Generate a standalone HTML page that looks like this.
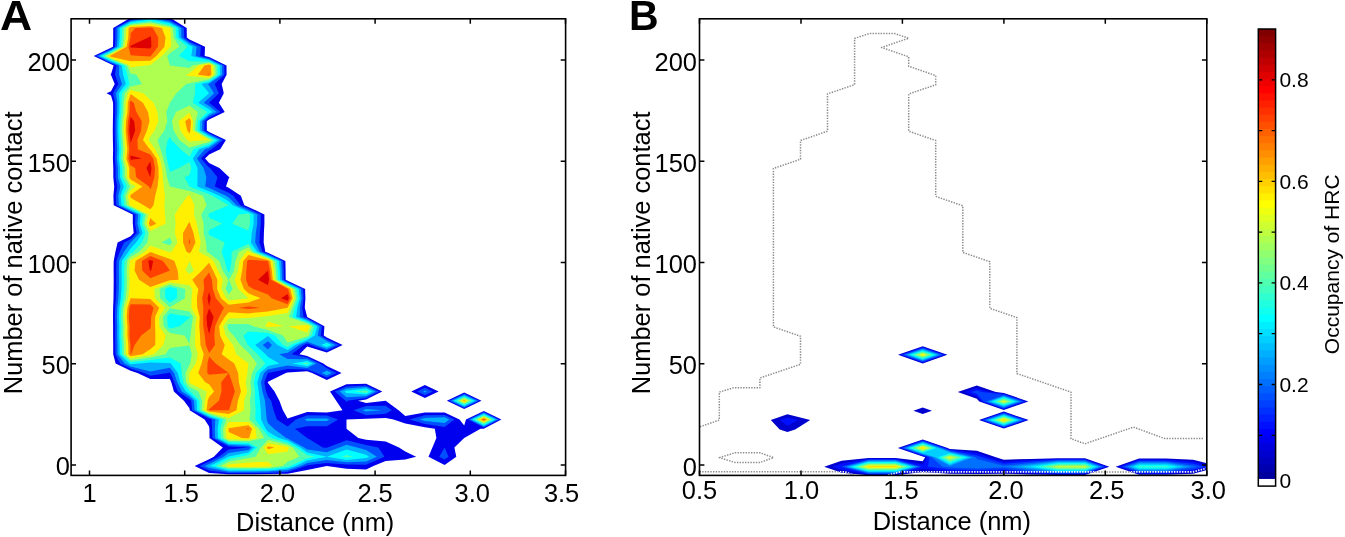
<!DOCTYPE html>
<html><head><meta charset="utf-8"><title>Figure</title><style>html,body{margin:0;padding:0;background:#fff}</style></head><body>
<svg width="1345" height="537" viewBox="0 0 1345 537" style="display:block" font-family="'Liberation Sans', sans-serif" fill="#000">
<rect width="1345" height="537" fill="#fff"/>
<clipPath id="ca"><rect x="71.1" y="18.8" width="494.5" height="456.6"/></clipPath>
<g clip-path="url(#ca)">
<path d="M128.9 18.8L130.6 18.8L150.3 18.8L169.9 18.8L171.7 18.8L186.7 28.1L186.8 37.4L189.5 39.4L205.0 46.8L204.7 56.1L209.1 57.1L226.5 65.4L226.6 74.7L221.7 84.0L223.8 93.3L218.9 102.7L224.7 112.0L209.1 119.4L206.8 121.3L206.8 130.6L209.1 131.9L225.9 139.9L220.2 149.3L209.1 154.5L205.1 158.6L209.1 163.0L219.4 167.9L228.7 176.8L229.5 177.2L228.7 178.5L226.0 186.5L228.7 187.7L240.8 195.8L244.4 205.2L248.4 206.9L264.4 214.5L264.4 223.8L263.9 233.1L263.7 242.4L265.3 251.8L268.0 252.8L285.4 261.1L285.6 270.4L285.7 279.7L287.6 280.7L305.1 289.0L305.4 298.3L304.8 307.7L307.2 317.0L307.2 317.0L324.4 326.3L323.8 335.6L326.8 337.4L342.7 344.9L326.8 352.5L307.2 346.5L299.4 354.2L307.2 355.9L323.3 363.6L326.8 365.9L341.6 372.9L326.8 379.9L312.1 372.9L307.2 371.2L287.6 372.5L285.8 372.9L268.0 381.8L267.8 382.2L268.0 383.0L274.5 391.5L279.4 400.8L282.9 410.2L287.6 418.6L307.2 412.1L326.8 412.6L342.5 410.2L336.2 400.8L330.0 391.5L346.5 384.3L366.1 383.8L382.3 391.5L366.1 399.6L358.1 400.8L366.1 403.1L385.7 400.8L398.6 410.2L405.3 416.0L424.9 412.5L444.6 412.5L459.5 419.5L464.2 425.5L466.0 419.5L483.8 411.1L501.4 419.5L483.8 428.7L480.5 428.8L464.2 438.1L464.2 438.1L454.4 447.4L456.3 456.7L444.6 465.0L428.5 456.7L432.4 447.4L436.4 438.1L434.8 428.8L424.9 427.2L405.3 423.4L393.5 419.5L385.7 417.9L366.1 418.8L346.5 419.5L346.5 419.5L346.5 428.8L346.5 428.8L358.3 438.1L366.1 439.8L385.7 441.4L399.0 447.4L405.3 451.6L416.1 456.7L405.3 459.4L385.7 461.0L373.4 466.1L366.1 469.6L346.5 468.7L326.8 466.1L326.8 466.1L326.8 466.1L307.2 469.9L287.6 473.7L268.0 474.1L248.4 474.2L228.7 474.2L209.1 473.0L194.6 466.1L209.1 459.2L213.9 456.7L222.8 447.4L209.5 438.1L209.4 428.8L209.1 426.5L204.6 419.5L189.7 410.2L189.5 408.3L183.9 400.8L173.9 391.5L171.3 382.2L169.9 378.9L150.3 379.0L137.4 372.9L130.6 370.7L115.6 363.6L113.2 354.2L113.2 344.9L113.1 335.6L113.1 326.3L113.0 317.0L113.1 307.7L113.5 298.3L113.6 289.0L113.7 279.7L113.6 270.4L113.7 261.1L115.4 251.8L117.6 242.4L130.6 236.2L133.7 233.1L132.8 223.8L132.8 214.5L130.6 213.4L113.7 205.2L113.4 195.8L114.2 186.5L113.3 177.2L113.3 167.9L112.9 158.6L113.1 149.3L112.9 139.9L112.8 130.6L112.9 121.3L113.1 112.0L113.1 102.7L111.0 95.5L106.5 93.3L111.0 91.2L114.7 84.0L111.0 75.1L110.3 74.7L111.0 74.3L113.7 65.4L111.0 64.3L93.7 56.1L111.0 47.8L113.0 46.8L113.2 37.4L113.2 28.1ZM411.3 391.5L424.9 385.0L438.6 391.5L424.9 398.0ZM446.9 400.8L464.2 392.6L481.5 400.8L464.2 409.1Z" fill="#0000ef" fill-rule="evenodd"/>
<path d="M115.4 28.1L130.6 19.9L137.4 18.8L150.3 18.8L163.1 18.8L169.9 20.2L184.0 28.1L184.2 37.4L189.5 41.4L200.9 46.8L200.2 56.1L209.1 58.2L224.3 65.4L224.4 74.7L214.7 84.0L218.9 93.3L209.1 102.7L209.1 102.7L209.1 102.7L220.6 112.0L209.1 117.4L204.6 121.3L204.4 130.6L209.1 133.3L223.1 139.9L211.7 149.3L209.1 150.5L201.0 158.6L209.1 167.4L210.1 167.9L217.4 177.2L214.8 186.5L228.7 192.8L233.3 195.8L240.5 205.2L248.4 208.5L260.8 214.5L260.8 223.8L259.9 233.1L259.4 242.4L262.6 251.8L268.0 253.8L283.2 261.1L283.7 270.4L283.9 279.7L287.6 281.7L303.0 289.0L303.6 298.3L302.3 307.7L303.5 317.0L307.2 318.3L322.0 326.3L320.8 335.6L326.8 339.2L338.9 344.9L326.8 350.7L311.1 344.9L307.2 343.5L303.8 344.9L291.5 354.2L307.2 357.6L319.8 363.6L326.8 368.2L336.7 372.9L326.8 377.5L317.0 372.9L307.2 369.6L287.6 368.9L268.0 372.9L268.0 372.9L264.3 382.2L266.1 391.5L268.0 396.7L271.2 400.8L273.6 410.2L276.9 419.5L287.6 426.6L295.9 419.5L307.2 415.3L326.8 415.6L337.9 419.5L326.8 426.2L307.2 426.2L295.0 428.8L307.2 438.1L307.2 438.1L322.9 447.4L326.8 447.7L327.4 447.4L346.5 440.3L366.1 444.9L378.3 447.4L384.5 456.7L366.1 464.7L346.5 464.6L326.8 463.0L307.2 465.3L305.7 466.1L287.6 472.0L268.0 472.9L248.4 473.0L228.7 472.9L209.1 470.5L199.7 466.1L209.1 461.6L218.7 456.7L228.7 449.4L248.4 447.4L248.4 447.4L248.4 447.4L228.7 446.6L212.4 438.1L212.1 428.8L211.7 419.5L209.1 418.6L192.1 410.2L191.2 400.8L189.5 399.2L177.9 391.5L174.3 382.2L170.3 372.9L169.9 372.4L167.9 372.9L150.3 375.8L144.2 372.9L130.6 368.6L120.1 363.6L115.4 354.2L115.3 344.9L115.1 335.6L115.2 326.3L114.9 317.0L115.1 307.7L115.9 298.3L116.3 289.0L116.3 279.7L116.3 270.4L116.4 261.1L119.7 251.8L124.1 242.4L130.6 239.3L136.7 233.1L135.1 223.8L135.4 214.5L130.6 212.1L116.3 205.2L115.8 195.8L117.3 186.5L115.6 177.2L115.6 167.9L114.9 158.6L115.1 149.3L114.9 139.9L114.7 130.6L114.8 121.3L115.2 112.0L115.2 102.7L113.1 93.3L118.4 84.0L115.0 74.7L116.4 65.4L111.0 63.2L95.9 56.1L111.0 48.9L114.9 46.8L115.3 37.4ZM334.8 391.5L346.5 386.4L366.1 385.4L378.9 391.5L366.1 397.9L347.5 400.8L346.5 401.9L345.5 400.8ZM417.2 391.5L424.9 387.8L432.7 391.5L424.9 395.2ZM449.2 400.8L464.2 393.7L479.2 400.8L464.2 408.0ZM353.6 410.2L366.1 406.0L385.7 405.7L391.8 410.2L385.7 413.8L366.1 415.2ZM409.5 419.5L424.9 415.3L444.6 414.9L454.4 419.5L444.6 426.9L424.9 424.1ZM468.1 419.5L483.8 412.1L499.3 419.5L483.8 427.6ZM439.2 456.7L444.6 447.4L448.5 456.7L444.6 459.5Z" fill="#0050ff" fill-rule="evenodd"/>
<path d="M117.6 28.1L130.6 21.1L145.0 18.8L150.3 18.8L155.5 18.8L169.9 21.8L181.2 28.1L181.5 37.4L189.5 43.3L196.7 46.8L195.7 56.1L209.1 59.2L222.1 65.4L222.2 74.7L209.1 83.7L207.9 84.0L209.1 85.6L214.0 93.3L209.1 98.0L203.7 102.7L209.1 106.0L216.5 112.0L209.1 115.5L202.3 121.3L202.1 130.6L209.1 134.6L220.3 139.9L209.1 147.9L205.0 149.3L196.9 158.6L203.6 167.9L206.4 177.2L205.2 186.5L209.1 188.1L226.0 195.8L228.7 197.4L236.6 205.2L248.4 210.2L257.3 214.5L257.2 223.8L255.8 233.1L255.2 242.4L259.9 251.7L268.0 254.9L281.1 261.1L281.7 270.4L282.0 279.7L287.6 282.7L300.8 289.0L301.7 298.3L299.9 307.7L299.8 317.0L307.2 319.6L319.5 326.3L317.8 335.6L326.8 341.0L335.1 344.9L326.8 348.9L316.0 344.9L307.2 341.8L299.5 344.9L287.6 352.8L279.4 354.2L287.6 358.9L307.2 359.2L316.3 363.6L307.2 367.9L287.6 365.4L268.0 369.4L264.0 372.9L260.9 382.2L262.4 391.5L265.0 400.8L265.9 410.2L266.8 419.5L268.0 423.2L273.9 428.8L286.1 438.1L287.6 438.5L304.1 447.4L307.2 449.6L326.8 452.2L339.3 447.4L346.5 444.8L357.2 447.4L366.1 449.9L376.9 456.7L366.1 461.4L346.5 462.2L326.8 459.9L307.2 463.0L300.5 466.1L287.6 470.3L268.0 471.6L248.4 471.8L228.7 471.7L209.1 468.1L204.8 466.1L209.1 464.0L223.5 456.7L228.7 452.9L248.4 449.9L251.4 447.4L248.4 445.9L228.7 445.1L215.2 438.1L214.8 428.8L215.4 419.5L209.1 417.4L194.6 410.2L193.9 400.8L189.5 396.6L181.9 391.5L177.2 382.2L174.1 372.9L169.9 367.8L150.3 371.6L130.6 366.4L124.7 363.6L117.5 354.2L117.5 344.9L117.2 335.6L117.2 326.3L116.9 317.0L117.2 307.7L118.4 298.3L118.9 289.0L119.0 279.7L118.9 270.4L119.1 261.1L124.1 251.8L130.6 242.4L130.6 242.4L139.7 233.1L137.4 223.8L138.1 214.5L130.6 210.9L119.0 205.2L118.2 195.8L120.5 186.5L117.9 177.2L117.9 167.9L116.8 158.6L117.2 149.3L116.8 139.9L116.5 130.6L116.6 121.3L117.2 112.0L117.3 102.7L116.1 93.3L122.1 84.0L119.1 74.7L119.1 65.4L111.0 62.2L98.2 56.1L111.0 50.0L116.8 46.8L117.5 37.4ZM268.0 341.3L262.7 344.9L268.0 349.6L271.9 344.9ZM321.9 372.9L326.8 370.6L331.7 372.9L326.8 375.2ZM339.7 391.5L346.5 388.6L366.1 387.0L375.6 391.5L366.1 396.2L346.5 397.2ZM423.2 391.5L424.9 390.7L426.7 391.5L424.9 392.4ZM451.5 400.8L464.2 394.8L476.9 400.8L464.2 406.9ZM362.5 410.2L366.1 409.0L381.8 410.2L366.1 411.6ZM304.6 419.5L307.2 418.5L326.8 418.6L329.4 419.5L326.8 421.0L307.2 421.0ZM419.8 419.5L424.9 418.1L444.6 417.3L449.2 419.5L444.6 423.0L424.9 421.0ZM470.2 419.5L483.8 413.1L497.3 419.5L483.8 426.5Z" fill="#00afff" fill-rule="evenodd"/>
<path d="M119.8 28.1L130.6 22.3L150.3 19.3L169.9 23.3L178.4 28.1L178.9 37.4L189.5 45.3L192.6 46.8L191.3 56.1L209.1 60.3L219.8 65.4L220.1 74.7L209.1 82.2L201.5 84.0L209.1 93.3L198.2 102.7L209.1 109.3L212.4 112.0L209.1 113.5L200.0 121.3L199.7 130.6L209.1 135.9L217.5 139.9L209.1 145.9L199.2 149.3L192.9 158.6L197.5 167.9L197.5 177.2L197.3 186.5L209.1 191.2L219.3 195.8L228.7 201.3L232.7 205.2L248.4 211.9L253.7 214.5L253.6 223.8L251.7 233.1L250.9 242.4L257.2 251.8L268.0 255.9L278.9 261.1L279.8 270.4L280.2 279.7L287.6 283.8L298.7 289.0L299.9 298.3L297.4 307.7L296.1 317.0L307.2 320.9L317.1 326.3L314.8 335.6L307.2 340.0L295.3 344.9L287.6 350.0L277.5 344.9L268.0 336.1L255.2 344.9L265.6 354.2L268.0 357.0L279.4 363.6L268.0 366.0L260.0 372.9L257.4 382.2L258.7 391.5L259.9 400.8L260.8 410.2L261.1 419.5L265.6 428.8L268.0 431.8L278.9 438.1L287.6 440.6L300.3 447.4L307.2 452.4L326.8 456.7L307.2 460.6L295.3 466.1L287.6 468.6L268.0 470.4L248.4 470.6L228.7 470.5L209.9 466.1L228.3 456.7L228.7 456.4L248.4 452.5L254.5 447.4L248.4 444.4L228.7 443.7L218.0 438.1L217.6 428.8L219.1 419.5L209.1 416.2L197.0 410.2L196.7 400.8L189.5 393.9L185.9 391.5L180.1 382.2L177.9 372.9L170.9 363.6L169.9 363.0L150.3 362.6L139.0 363.6L130.6 364.2L129.3 363.6L119.7 354.2L119.6 344.9L119.2 335.6L119.3 326.3L118.9 317.0L119.2 307.7L120.8 298.3L121.5 289.0L121.6 279.7L121.5 270.4L121.8 261.1L128.5 251.8L130.6 248.6L136.2 242.4L142.7 233.1L139.7 223.8L140.7 214.5L130.6 209.6L121.6 205.2L120.6 195.8L123.7 186.5L120.1 177.2L120.1 167.9L118.7 158.6L119.2 149.3L118.7 139.9L118.3 130.6L118.5 121.3L119.3 112.0L119.4 102.7L119.0 93.3L125.8 84.0L123.2 74.7L121.8 65.4L111.0 61.1L100.4 56.1L111.0 51.0L118.8 46.8L119.7 37.4ZM321.0 344.9L326.8 342.8L331.4 344.9L326.8 347.1ZM292.3 363.6L307.2 360.9L312.8 363.6L307.2 366.2ZM344.5 391.5L346.5 390.7L366.1 388.6L372.2 391.5L366.1 394.5L346.5 393.1ZM453.8 400.8L464.2 395.9L474.6 400.8L464.2 405.8ZM472.2 419.5L483.8 414.0L495.2 419.5L483.8 425.5ZM326.8 456.7L346.5 449.6L366.1 454.8L369.2 456.7L366.1 458.1L346.5 459.9Z" fill="#00ffff" fill-rule="evenodd"/>
<path d="M122.0 28.1L130.6 23.5L150.3 21.0L169.9 24.9L175.7 28.1L176.2 37.4L187.5 46.8L178.8 56.1L189.5 61.2L209.1 61.4L217.6 65.4L217.9 74.7L209.1 80.8L195.2 84.0L195.1 93.3L192.8 102.7L207.3 112.0L197.8 121.3L197.3 130.6L209.1 137.3L214.7 139.9L209.1 143.9L193.4 149.3L189.5 156.7L180.6 149.3L171.4 139.9L169.9 137.1L167.8 139.9L165.7 149.3L166.8 158.6L169.0 167.9L169.9 172.1L178.8 167.9L189.5 161.9L191.3 167.9L189.5 174.9L184.6 177.2L189.5 186.5L189.5 186.5L209.1 194.3L212.5 195.8L228.7 205.2L209.1 213.4L208.4 214.5L209.1 217.6L222.2 223.8L209.1 230.0L208.6 233.1L209.1 235.0L224.8 242.4L221.6 251.8L224.8 261.1L227.3 270.4L228.7 272.6L230.0 270.4L231.5 261.1L231.6 251.8L248.4 243.8L254.5 251.8L268.0 256.9L276.7 261.1L277.8 270.4L278.3 279.7L287.6 284.8L296.6 289.0L298.1 298.3L295.0 307.7L292.4 317.0L307.2 322.3L314.7 326.3L311.7 335.6L307.2 338.2L291.0 344.9L287.6 347.2L283.1 344.9L275.0 335.6L268.0 332.9L248.4 331.4L243.5 335.6L247.6 344.9L248.4 345.6L257.8 354.2L265.4 363.6L256.0 372.9L253.9 382.2L255.0 391.5L254.9 400.8L255.6 410.2L255.3 419.5L262.2 428.8L268.0 436.0L271.6 438.1L287.6 442.7L296.4 447.4L307.2 455.1L314.6 456.7L307.2 458.2L290.2 466.1L287.6 466.9L268.0 469.1L248.4 469.4L228.7 469.3L215.1 466.1L228.7 459.1L239.8 456.7L248.4 455.0L257.6 447.4L248.4 442.8L228.7 442.2L220.8 438.1L220.3 428.8L222.8 419.5L209.1 415.0L199.4 410.2L199.4 400.8L190.3 391.5L189.5 391.1L183.1 382.2L181.7 372.9L180.7 363.6L169.9 357.5L150.3 360.0L130.6 362.2L121.9 354.2L121.8 344.9L121.2 335.6L121.3 326.3L120.8 317.0L121.2 307.7L123.3 298.3L124.1 289.0L124.3 279.7L124.1 270.4L124.6 261.1L130.6 253.4L133.5 251.8L141.9 242.4L145.7 233.1L141.9 223.8L143.4 214.5L130.6 208.3L124.3 205.2L123.1 195.8L126.8 186.5L122.4 177.2L122.4 167.9L120.6 158.6L121.2 149.3L120.6 139.9L120.1 130.6L120.4 121.3L121.3 112.0L121.5 102.7L122.0 93.3L129.5 84.0L127.3 74.7L124.5 65.4L111.0 60.0L102.7 56.1L111.0 52.1L120.7 46.8L121.8 37.4ZM169.9 287.0L165.1 289.0L165.2 298.3L169.9 302.5L176.9 298.3L177.2 289.0ZM169.9 313.4L167.1 317.0L167.8 326.3L169.9 328.5L179.7 326.3L189.5 317.8L189.7 317.0L189.5 316.7ZM238.6 214.5L248.4 213.6L250.1 214.5L250.0 223.8L248.4 230.6L232.3 223.8ZM325.9 344.9L326.8 344.6L327.6 344.9L326.8 345.3ZM301.6 363.6L307.2 362.6L309.3 363.6L307.2 364.6ZM354.9 391.5L366.1 390.2L368.8 391.5L366.1 392.9ZM456.1 400.8L464.2 397.0L472.3 400.8L464.2 404.7ZM474.3 419.5L483.8 415.0L493.2 419.5L483.8 424.4ZM341.9 456.7L346.5 455.1L353.0 456.7L346.5 457.5Z" fill="#50ffaf" fill-rule="evenodd"/>
<path d="M124.2 28.1L130.6 24.7L150.3 22.6L169.9 26.4L172.9 28.1L173.6 37.4L179.3 46.8L169.9 53.2L167.2 56.1L169.9 65.4L169.9 65.4L189.5 68.1L192.5 65.4L209.1 62.4L215.4 65.4L215.7 74.7L209.1 79.3L189.5 83.3L186.2 84.0L176.4 93.3L169.9 102.7L169.9 102.7L166.3 112.0L167.2 121.3L164.5 130.6L157.5 139.9L160.5 149.3L163.4 158.6L165.5 167.9L167.0 177.2L169.9 186.5L169.9 186.5L189.5 191.1L202.8 195.8L206.7 205.2L201.1 214.5L203.7 223.8L203.6 233.1L206.0 242.4L206.8 251.7L209.1 253.1L219.2 261.1L222.6 270.4L228.5 279.7L225.7 289.0L228.7 294.5L232.7 289.0L229.0 279.7L234.1 270.4L235.4 261.1L238.9 251.8L248.4 247.3L251.9 251.8L268.0 258.0L274.5 261.1L275.8 270.4L276.5 279.7L287.6 285.8L294.4 289.0L296.2 298.3L292.5 307.7L288.7 317.0L307.2 323.6L312.2 326.3L308.7 335.6L307.2 336.5L287.6 342.6L282.9 335.6L268.0 329.9L253.3 326.3L248.4 324.0L228.7 324.1L227.1 326.3L228.7 330.4L233.6 335.6L240.4 344.9L248.4 352.8L249.9 354.2L256.9 363.6L252.0 372.9L250.4 382.2L251.3 391.5L249.9 400.8L250.4 410.2L249.5 419.5L258.9 428.8L264.2 438.1L248.4 441.3L228.7 440.7L223.7 438.1L223.0 428.8L226.5 419.5L209.1 413.8L201.8 410.2L202.2 400.8L198.5 391.5L189.5 387.1L186.0 382.2L185.5 372.9L189.5 364.4L190.1 363.6L191.9 354.2L189.5 345.4L169.9 348.0L165.3 354.2L150.3 357.5L130.6 360.2L124.0 354.2L124.0 344.9L123.3 335.6L123.4 326.3L122.8 317.0L123.3 307.7L125.7 298.3L126.7 289.0L126.9 279.7L126.7 270.4L127.3 261.1L130.6 256.8L139.3 251.8L147.5 242.4L148.8 233.1L144.2 223.8L146.0 214.5L130.6 207.0L126.9 205.2L125.5 195.8L130.0 186.5L124.7 177.2L124.7 167.9L122.6 158.6L123.3 149.3L122.6 139.9L122.0 130.6L122.3 121.3L123.4 112.0L123.6 102.7L125.0 93.3L130.6 86.5L142.1 84.0L136.2 74.7L130.6 73.5L127.1 65.4L111.0 59.0L104.9 56.1L111.0 53.2L122.7 46.8L124.0 37.4ZM169.9 237.8L161.2 242.4L169.9 245.3L172.1 242.4ZM169.9 284.7L159.7 289.0L160.1 298.3L169.9 307.2L184.8 298.3L185.4 289.0ZM169.9 308.2L163.1 317.0L163.6 326.3L169.9 332.9L184.6 335.6L189.5 344.1L190.5 335.6L191.5 326.3L193.0 317.0L189.5 311.4ZM175.9 112.0L189.5 105.5L197.9 112.0L195.5 121.3L195.0 130.6L209.1 138.6L211.9 139.9L209.1 141.9L189.5 147.4L179.3 139.9L173.6 130.6L171.9 121.3ZM458.4 400.8L464.2 398.1L470.0 400.8L464.2 403.6ZM476.4 419.5L483.8 416.0L491.2 419.5L483.8 423.3ZM260.7 447.4L268.0 439.7L287.6 444.7L292.6 447.4L299.4 456.7L287.6 461.8L282.6 466.1L268.0 467.9L248.4 468.2L228.7 468.0L220.4 466.1L228.7 461.8L248.4 458.1L255.7 456.7Z" fill="#afff50" fill-rule="evenodd"/>
<path d="M126.5 28.1L130.6 25.8L150.3 24.3L169.9 28.0L170.2 28.1L170.9 37.4L171.1 46.8L169.9 47.6L161.7 56.1L150.3 65.0L145.4 65.4L130.6 67.3L129.8 65.4L111.0 57.9L107.2 56.1L111.0 54.3L124.6 46.8L126.1 37.4ZM198.4 65.4L209.1 63.5L213.1 65.4L213.6 74.7L209.1 77.8L189.5 76.1L185.9 74.7L189.5 73.6ZM128.0 93.3L130.6 90.1L143.3 93.3L150.3 100.0L153.5 102.7L157.4 112.0L158.3 121.3L154.6 130.6L150.3 136.2L148.6 139.9L150.3 142.2L155.2 149.3L160.0 158.6L162.0 167.9L162.8 177.2L163.7 186.5L165.0 195.8L164.4 205.2L165.0 214.5L165.7 223.8L150.3 230.9L146.5 223.8L148.7 214.5L130.6 205.7L129.6 205.2L127.9 195.8L130.6 190.3L135.9 186.5L130.6 183.4L127.0 177.2L127.0 167.9L124.5 158.6L125.3 149.3L124.5 139.9L123.8 130.6L124.2 121.3L125.5 112.0L125.7 102.7ZM178.6 121.3L189.5 112.5L193.2 121.3L192.6 130.6L209.1 139.9L189.5 141.6L187.1 139.9L180.4 130.6ZM187.7 195.8L189.5 195.6L190.1 195.8L194.4 205.2L193.9 214.5L196.9 223.8L198.6 233.1L200.7 242.4L198.9 251.8L209.1 257.5L213.6 261.1L217.9 270.4L222.9 279.7L221.4 289.0L226.2 298.3L228.7 300.5L248.4 298.3L248.4 298.3L248.4 298.3L238.3 289.0L234.7 279.7L238.1 270.4L239.3 261.1L246.2 251.8L248.4 250.7L249.2 251.8L268.0 259.0L272.3 261.1L273.9 270.4L274.6 279.7L287.6 286.8L292.3 289.0L294.4 298.3L290.1 307.7L287.6 313.1L268.0 316.0L258.2 317.0L248.4 318.1L228.7 318.6L223.1 326.3L225.9 335.6L228.7 339.8L233.1 344.9L236.3 354.2L248.4 363.6L247.4 372.9L245.7 382.2L247.1 391.5L244.1 400.8L243.9 410.2L228.7 418.0L209.1 412.6L204.2 410.2L205.0 400.8L206.7 391.5L189.5 383.0L188.9 382.2L189.3 372.9L189.5 372.5L195.8 363.6L197.8 354.2L194.9 344.9L195.2 335.6L195.4 326.3L196.4 317.0L191.3 307.7L191.6 298.3L192.4 289.0L189.5 285.3L169.9 282.4L154.3 289.0L154.9 298.3L164.8 307.7L159.1 317.0L159.3 326.3L165.7 335.6L163.3 344.9L153.7 354.2L150.3 355.0L130.6 358.3L126.2 354.2L126.1 344.9L125.3 335.6L125.5 326.3L124.8 317.0L125.3 307.7L128.2 298.3L129.3 289.0L129.6 279.7L129.3 270.4L130.0 261.1L130.6 260.2L145.1 251.8L150.3 245.8L167.9 251.8L169.9 252.4L171.4 251.7L177.6 242.4L174.8 233.1L175.6 223.8L174.8 214.5L180.8 205.2ZM189.5 261.1L189.5 261.1L185.6 270.4L189.5 274.1L193.7 270.4L189.5 261.1ZM265.5 326.3L268.0 321.6L283.7 326.3L268.0 326.9ZM288.5 326.3L307.2 324.9L309.8 326.3L307.2 332.6ZM460.7 400.8L464.2 399.2L467.6 400.8L464.2 402.5ZM478.4 419.5L483.8 417.0L489.1 419.5L483.8 422.3ZM225.7 428.8L228.7 422.0L248.4 422.0L255.5 428.8L256.7 438.1L248.4 439.8L228.7 439.3L226.5 438.1ZM263.8 447.4L268.0 443.0L287.6 446.8L288.8 447.4L287.6 451.4L268.0 454.2ZM225.6 466.1L228.7 464.5L248.4 462.5L268.0 461.7L272.5 466.1L268.0 466.6L248.4 467.0L228.7 466.8Z" fill="#ffef00" fill-rule="evenodd"/>
<path d="M128.7 28.1L130.6 27.0L150.3 26.0L161.9 28.1L165.5 37.4L164.4 46.8L156.3 56.1L150.3 60.7L130.6 61.3L111.0 56.8L109.4 56.1L111.0 55.3L126.6 46.8L128.3 37.4ZM204.4 65.4L209.1 64.5L210.9 65.4L211.4 74.7L209.1 76.3L197.9 74.7ZM127.8 102.7L130.6 94.0L142.9 102.7L148.0 112.0L149.5 121.3L147.0 130.6L143.0 139.9L149.7 149.3L150.3 149.5L156.6 158.6L158.5 167.9L158.6 177.2L157.6 186.5L155.2 195.8L153.5 205.2L150.3 209.2L143.7 205.2L130.6 197.7L130.3 195.8L130.6 195.1L142.4 186.5L130.6 179.5L129.3 177.2L129.3 167.9L126.4 158.6L127.4 149.3L126.4 139.9L125.6 130.6L126.0 121.3L127.5 112.0ZM185.2 121.3L189.5 117.9L191.0 121.3L190.3 130.6L189.5 133.6L187.3 130.6ZM148.8 223.8L150.3 218.0L156.3 223.8L150.3 226.6ZM188.2 223.8L189.5 221.9L190.2 223.8L193.5 233.1L195.5 242.4L191.1 251.8L189.5 253.3L186.5 251.8L183.1 242.4L183.0 233.1ZM135.5 261.1L150.3 252.1L169.9 259.1L174.4 261.1L177.7 270.4L178.6 279.7L169.9 280.2L150.3 286.9L139.0 279.7L134.5 270.4ZM243.3 261.1L248.4 255.0L268.0 260.0L270.2 261.1L271.9 270.4L272.8 279.7L287.6 287.8L290.2 289.0L292.6 298.3L287.6 307.7L287.6 307.7L268.0 311.4L248.4 313.4L228.7 312.3L224.8 317.0L219.1 326.3L220.1 335.6L224.8 344.9L221.7 354.2L228.7 359.4L234.3 363.6L238.1 372.9L238.9 382.2L241.0 391.5L237.9 400.8L236.5 410.2L228.7 414.1L209.1 411.4L206.6 410.2L207.7 400.8L209.1 397.0L214.2 391.5L209.1 384.3L205.2 382.2L198.2 372.9L201.6 363.6L203.8 354.2L200.4 344.9L200.0 335.6L199.3 326.3L199.7 317.0L197.3 307.7L196.9 298.3L198.3 289.0L192.3 279.7L202.0 270.4L209.1 262.8L213.1 270.4L217.4 279.7L217.1 289.0L221.0 298.3L228.7 304.7L248.4 302.4L260.6 298.3L248.4 293.2L243.9 289.0L240.4 279.7L242.2 270.4ZM127.4 307.7L130.6 298.3L150.3 298.9L159.2 307.7L155.1 317.0L155.1 326.3L155.4 335.6L155.2 344.9L150.3 349.2L142.4 354.2L130.6 356.3L128.4 354.2L128.3 344.9L127.4 335.6L127.5 326.3L126.7 317.0ZM306.3 326.3L307.2 326.2L307.3 326.3L307.2 326.6ZM463.0 400.8L464.2 400.3L465.3 400.8L464.2 401.4ZM480.5 419.5L483.8 417.9L487.1 419.5L483.8 421.2ZM228.5 428.8L228.7 428.2L248.4 425.2L252.1 428.8L249.1 438.1L248.4 438.3L241.8 438.1L228.7 431.9ZM266.9 447.4L268.0 446.3L274.5 447.4L268.0 449.2Z" fill="#ff8f00" fill-rule="evenodd"/>
<path d="M135.5 28.1L150.3 27.6L152.9 28.1L158.3 37.4L158.0 46.8L150.8 56.1L150.3 56.5L140.4 56.1L130.6 55.3L128.5 46.8L130.5 37.4L130.6 33.3ZM208.5 74.7L209.1 72.6L209.2 74.7L209.1 74.8ZM129.9 102.7L130.6 100.5L133.7 102.7L136.4 112.0L141.8 121.3L141.1 130.6L137.4 139.9L137.8 149.3L150.3 154.4L153.2 158.6L155.0 167.9L154.4 177.2L151.5 186.5L150.3 189.2L149.0 186.5L136.2 177.2L135.1 167.9L130.6 165.6L128.3 158.6L129.4 149.3L128.3 139.9L127.4 130.6L127.9 121.3L129.6 112.0ZM188.7 242.4L189.5 238.4L190.3 242.4L189.5 243.9ZM141.9 261.1L150.3 256.0L163.0 261.1L169.9 270.4L150.3 278.2L142.2 270.4ZM247.2 261.1L248.4 259.7L268.0 261.1L268.0 261.1L269.9 270.4L270.9 279.7L287.6 288.8L288.0 289.0L290.7 298.3L287.6 304.2L271.7 298.3L268.0 294.6L253.3 289.0L248.4 285.9L246.1 279.7L246.3 270.4ZM203.5 279.7L209.1 272.5L211.9 279.7L212.8 289.0L215.8 298.3L224.0 307.7L219.2 317.0L215.1 326.3L214.3 335.6L215.0 344.9L209.1 352.9L205.8 344.9L204.8 335.6L203.2 326.3L203.1 317.0L203.4 307.7L202.2 298.3L204.1 289.0ZM129.4 307.7L130.6 304.2L150.3 304.4L153.6 307.7L151.1 317.0L150.9 326.3L150.3 328.4L141.3 335.6L134.6 344.9L131.2 354.2L130.6 354.3L130.5 354.2L130.4 344.9L129.4 335.6L129.6 326.3L128.7 317.0ZM238.6 307.7L248.4 306.4L260.1 307.7L248.4 309.0ZM207.4 363.6L209.1 356.6L215.7 363.6L228.7 372.9L209.1 374.7L207.3 372.9ZM221.2 382.2L228.7 372.9L232.1 382.2L234.9 391.5L231.8 400.8L229.1 410.2L228.7 410.3L209.1 410.2L209.0 410.2L209.1 409.3L218.9 400.8L221.5 391.5ZM482.6 419.5L483.8 418.9L485.0 419.5L483.8 420.1ZM246.1 428.8L248.4 428.4L248.8 428.8L248.4 429.9Z" fill="#ff4000" fill-rule="evenodd"/>
<path d="M148.3 37.4L150.3 36.3L151.0 37.4L151.5 46.8L150.3 48.4L130.6 47.5L130.4 46.8L130.6 45.8ZM129.8 121.3L130.6 116.8L134.2 121.3L135.2 130.6L131.8 139.9L130.6 143.0L130.3 139.9L129.2 130.6ZM130.3 158.6L130.6 155.5L141.9 158.6L130.6 159.7ZM146.3 167.9L150.3 161.4L151.5 167.9L150.3 177.2ZM148.3 261.1L150.3 259.9L153.2 261.1L151.2 270.4L150.3 270.8L149.9 270.4ZM258.2 279.7L268.0 270.4L269.1 279.7L268.0 285.3ZM207.5 298.3L209.1 292.1L210.7 298.3L209.1 306.3ZM281.1 298.3L287.6 294.0L288.9 298.3L287.6 300.8ZM206.4 317.0L209.1 308.2L213.6 317.0L211.1 326.3L209.1 334.1L207.2 326.3Z" fill="#de0000" fill-rule="evenodd"/>
</g>
<clipPath id="cb"><rect x="699.5" y="18.8" width="507.3" height="456.6"/></clipPath>
<g clip-path="url(#cb)"><g transform="translate(0 0.6)" fill="none" stroke="#8c8c8c" stroke-width="1.5" stroke-linejoin="round" stroke-dasharray="1.4 1.3"><path d="M692.3 428.8L719.3 419.5V391.5L733.5 387.2H759.9V377.4L800.5 363.7V335.6L773.4 326.3V167.9L800.5 158.6V139.9L827.5 130.6V93.3L854.6 84V37.8L869.3 32.9H894.5L908.7 37.6L881.6 46.9L908.7 56.2V65.6L935.7 75V84.2L908.7 93.4V130.6L935.7 139.9V195.8L962.8 205.2V251.8L989.8 261.1V307.7L1016.9 317V372.9L1071 391.5V438.1L1085 443.2L1133.5 426.5L1164.8 438H1203M719.3 457L735 452.2H760L773.5 457L760 461.9H735ZM699.5 471.2H845L857 476M883 476L900 471.3H1193L1207 467.5"/></g></g>
<g clip-path="url(#cb)"><g transform="translate(0 0.6)">
<path d="M898.0 354.2L922.7 345.7L947.4 354.2L922.7 362.8ZM957.7 391.5L976.8 384.9L995.9 391.5L1003.8 392.4L1028.4 400.8L1003.8 409.3L979.3 400.8L976.8 398.1ZM913.4 410.2L922.7 407.0L932.0 410.2L922.7 413.3ZM770.8 419.5L787.4 413.7L810.2 419.5L795.2 428.8L787.4 431.5L779.7 428.8ZM979.0 419.5L1003.8 410.9L1028.7 419.5L1003.8 428.0ZM897.8 447.4L922.7 438.9L947.6 447.4L949.8 448.3L976.8 450.2L995.9 456.7L1003.8 459.1L1030.9 458.3L1058.0 457.6L1085.0 457.6L1109.4 466.1L1085.0 474.5L1058.0 474.5L1030.9 473.8L1003.8 473.1L976.8 473.3L949.8 473.1L922.7 471.5L895.6 474.6L868.6 474.6L841.5 472.1L824.2 466.1L841.5 460.1L868.6 457.5L895.6 457.5L922.7 460.6L925.2 456.7L922.7 456.0ZM1115.6 466.1L1139.1 458.0L1166.2 458.0L1193.2 459.1L1220.2 466.1L1193.2 473.1L1166.2 474.2L1139.1 474.2Z" fill="#0000cf" fill-rule="evenodd"/>
<path d="M900.0 354.2L922.7 346.4L945.4 354.2L922.7 362.1ZM964.5 391.5L976.8 387.3L989.1 391.5L1003.8 393.1L1026.3 400.8L1003.8 408.6L981.4 400.8L976.8 395.7ZM779.8 419.5L787.4 416.8L798.0 419.5L787.4 425.2ZM980.9 419.5L1003.8 411.6L1026.8 419.5L1003.8 427.4ZM899.7 447.4L922.7 439.5L945.7 447.4L949.8 449.0L976.8 452.5L989.1 456.7L1003.8 461.1L1030.9 459.6L1058.0 458.4L1085.0 458.4L1107.2 466.1L1085.0 473.7L1058.0 473.7L1030.9 472.5L1003.8 471.0L976.8 471.4L949.8 471.0L922.7 468.2L895.6 473.9L868.6 473.9L841.5 469.2L832.5 466.1L841.5 462.9L868.6 458.2L895.6 458.2L922.7 464.0L927.3 456.7L922.7 455.3ZM1118.7 466.1L1139.1 459.0L1166.2 459.0L1193.2 461.1L1212.5 466.1L1193.2 471.0L1166.2 473.1L1139.1 473.1Z" fill="#0010ff" fill-rule="evenodd"/>
<path d="M902.0 354.2L922.7 347.1L943.4 354.2L922.7 361.4ZM971.4 391.5L976.8 389.7L982.2 391.5L1003.8 393.8L1024.2 400.8L1003.8 407.9L983.5 400.8L976.8 393.4ZM982.7 419.5L1003.8 412.2L1025.0 419.5L1003.8 426.7ZM901.6 447.4L922.7 440.2L943.8 447.4L949.8 449.7L976.8 454.9L982.2 456.7L1003.8 463.1L1030.9 461.0L1058.0 459.2L1085.0 459.2L1105.0 466.1L1085.0 472.9L1058.0 472.9L1030.9 471.2L1003.8 469.0L976.8 469.6L949.8 469.0L928.1 466.1L929.4 456.7L922.7 454.7ZM840.8 466.1L841.5 465.8L868.6 458.9L895.6 458.9L921.8 466.1L895.6 473.3L868.6 473.3L841.5 466.3ZM1121.7 466.1L1139.1 460.1L1166.2 460.1L1193.2 463.1L1204.7 466.1L1193.2 469.0L1166.2 472.0L1139.1 472.0Z" fill="#0040ff" fill-rule="evenodd"/>
<path d="M904.0 354.2L922.7 347.8L941.4 354.2L922.7 360.7ZM985.6 400.8L1003.8 394.6L1022.1 400.8L1003.8 407.1ZM984.6 419.5L1003.8 412.8L1023.1 419.5L1003.8 426.1ZM903.5 447.4L922.7 440.8L941.9 447.4L949.8 450.5L976.2 456.7L976.8 458.4L1003.8 465.1L1030.9 462.3L1058.0 460.0L1085.0 460.0L1102.7 466.1L1085.0 472.2L1058.0 472.2L1030.9 469.8L1003.8 467.0L976.8 467.8L949.8 467.0L942.6 466.1L931.5 456.7L922.7 454.1ZM843.8 466.1L868.6 459.5L895.6 459.5L919.4 466.1L895.6 472.6L868.6 472.6ZM1124.8 466.1L1139.1 461.1L1166.2 461.1L1193.2 465.1L1197.0 466.1L1193.2 467.0L1166.2 471.0L1139.1 471.0Z" fill="#0070ff" fill-rule="evenodd"/>
<path d="M906.0 354.2L922.7 348.5L939.4 354.2L922.7 360.0ZM987.7 400.8L1003.8 395.3L1020.0 400.8L1003.8 406.4ZM986.5 419.5L1003.8 413.5L1021.2 419.5L1003.8 425.5ZM905.3 447.4L922.7 441.4L940.1 447.4L949.8 451.2L973.1 456.7L949.8 465.5L933.6 456.7L922.7 453.4ZM846.4 466.1L868.6 460.2L895.6 460.2L917.0 466.1L895.6 471.9L868.6 471.9ZM1009.8 466.1L1030.9 463.6L1058.0 460.7L1085.0 460.7L1100.5 466.1L1085.0 471.4L1058.0 471.4L1030.9 468.5ZM1127.9 466.1L1139.1 462.2L1166.2 462.2L1189.9 466.1L1166.2 469.9L1139.1 469.9Z" fill="#009fff" fill-rule="evenodd"/>
<path d="M908.0 354.2L922.7 349.2L937.4 354.2L922.7 359.3ZM989.8 400.8L1003.8 396.0L1017.9 400.8L1003.8 405.7ZM988.4 419.5L1003.8 414.1L1019.3 419.5L1003.8 424.8ZM907.2 447.4L922.7 442.1L938.2 447.4L949.8 451.9L970.0 456.7L949.8 464.3L935.7 456.7L922.7 452.8ZM848.9 466.1L868.6 460.9L895.6 460.9L914.5 466.1L895.6 471.3L868.6 471.3ZM1021.4 466.1L1030.9 465.0L1058.0 461.5L1085.0 461.5L1098.3 466.1L1085.0 470.6L1058.0 470.6L1030.9 467.2ZM1130.9 466.1L1139.1 463.2L1166.2 463.2L1183.4 466.1L1166.2 468.9L1139.1 468.9Z" fill="#00cfff" fill-rule="evenodd"/>
<path d="M910.0 354.2L922.7 349.9L935.4 354.2L922.7 358.6ZM991.9 400.8L1003.8 396.7L1015.8 400.8L1003.8 404.9ZM990.2 419.5L1003.8 414.8L1017.5 419.5L1003.8 424.2ZM909.1 447.4L922.7 442.7L936.3 447.4L922.7 452.1ZM937.8 456.7L949.8 452.6L967.0 456.7L949.8 463.2ZM851.4 466.1L868.6 461.5L895.6 461.5L912.1 466.1L895.6 470.6L868.6 470.6ZM1031.9 466.1L1058.0 462.3L1085.0 462.3L1096.0 466.1L1085.0 469.9L1058.0 469.9ZM1134.0 466.1L1139.1 464.3L1166.2 464.3L1177.0 466.1L1166.2 467.8L1139.1 467.8Z" fill="#00ffff" fill-rule="evenodd"/>
<path d="M912.0 354.2L922.7 350.6L933.4 354.2L922.7 357.9ZM994.1 400.8L1003.8 397.5L1013.6 400.8L1003.8 404.2ZM992.1 419.5L1003.8 415.4L1015.6 419.5L1003.8 423.5ZM911.0 447.4L922.7 443.4L934.4 447.4L922.7 451.5ZM940.0 456.7L949.8 453.4L963.9 456.7L949.8 462.0ZM854.0 466.1L868.6 462.2L895.6 462.2L909.7 466.1L895.6 469.9L868.6 469.9ZM1037.2 466.1L1058.0 463.0L1085.0 463.0L1093.8 466.1L1085.0 469.1L1058.0 469.1ZM1137.0 466.1L1139.1 465.4L1166.2 465.4L1170.5 466.1L1166.2 466.8L1139.1 466.8Z" fill="#30ffcf" fill-rule="evenodd"/>
<path d="M914.0 354.2L922.7 351.3L931.4 354.2L922.7 357.2ZM996.2 400.8L1003.8 398.2L1011.5 400.8L1003.8 403.5ZM994.0 419.5L1003.8 416.1L1013.7 419.5L1003.8 422.9ZM912.8 447.4L922.7 444.0L932.6 447.4L922.7 450.8ZM942.1 456.7L949.8 454.1L960.9 456.7L949.8 460.9ZM856.5 466.1L868.6 462.9L895.6 462.9L907.3 466.1L895.6 469.3L868.6 469.3ZM1042.5 466.1L1058.0 463.8L1085.0 463.8L1091.6 466.1L1085.0 468.3L1058.0 468.3Z" fill="#60ff9f" fill-rule="evenodd"/>
<path d="M916.0 354.2L922.7 352.0L929.4 354.2L922.7 356.5ZM998.3 400.8L1003.8 398.9L1009.4 400.8L1003.8 402.8ZM995.9 419.5L1003.8 416.7L1011.8 419.5L1003.8 422.2ZM914.7 447.4L922.7 444.7L930.7 447.4L922.7 450.2ZM944.2 456.7L949.8 454.8L957.8 456.7L949.8 459.8ZM859.0 466.1L868.6 463.5L895.6 463.5L904.8 466.1L895.6 468.6L868.6 468.6ZM1047.7 466.1L1058.0 464.6L1085.0 464.6L1089.3 466.1L1085.0 467.6L1058.0 467.6Z" fill="#8fff70" fill-rule="evenodd"/>
<path d="M918.0 354.2L922.7 352.6L927.4 354.2L922.7 355.9ZM1000.4 400.8L1003.8 399.7L1007.3 400.8L1003.8 402.0ZM997.7 419.5L1003.8 417.4L1010.0 419.5L1003.8 421.6ZM916.6 447.4L922.7 445.3L928.8 447.4L922.7 449.5ZM946.3 456.7L949.8 455.6L954.7 456.7L949.8 458.6ZM861.5 466.1L868.6 464.2L895.6 464.2L902.4 466.1L895.6 467.9L868.6 467.9ZM1053.0 466.1L1058.0 465.3L1085.0 465.3L1087.1 466.1L1085.0 466.8L1058.0 466.8Z" fill="#bfff40" fill-rule="evenodd"/>
<path d="M920.0 354.2L922.7 353.3L925.4 354.2L922.7 355.2ZM1002.5 400.8L1003.8 400.4L1005.2 400.8L1003.8 401.3ZM999.6 419.5L1003.8 418.0L1008.1 419.5L1003.8 420.9ZM918.5 447.4L922.7 446.0L926.9 447.4L922.7 448.9ZM948.4 456.7L949.8 456.3L951.7 456.7L949.8 457.5ZM864.1 466.1L868.6 464.9L895.6 464.9L900.0 466.1L895.6 467.3L868.6 467.3Z" fill="#efff10" fill-rule="evenodd"/>
<path d="M922.0 354.2L922.7 354.0L923.4 354.2L922.7 354.5ZM1001.5 419.5L1003.8 418.7L1006.2 419.5L1003.8 420.3ZM920.3 447.4L922.7 446.6L925.1 447.4L922.7 448.2ZM866.6 466.1L868.6 465.5L895.6 465.5L897.6 466.1L895.6 466.6L868.6 466.6Z" fill="#ffdf00" fill-rule="evenodd"/>
<path d="M1003.4 419.5L1003.8 419.3L1004.3 419.5L1003.8 419.6ZM922.2 447.4L922.7 447.3L923.2 447.4L922.7 447.6Z" fill="#ffaf00" fill-rule="evenodd"/>
</g></g>
<clipPath id="cbs"><path d="M898.0 354.2L922.7 345.7L947.4 354.2L922.7 362.8ZM957.7 391.5L976.8 384.9L995.9 391.5L1003.8 392.4L1028.4 400.8L1003.8 409.3L979.3 400.8L976.8 398.1ZM913.4 410.2L922.7 407.0L932.0 410.2L922.7 413.3ZM770.8 419.5L787.4 413.7L810.2 419.5L795.2 428.8L787.4 431.5L779.7 428.8ZM979.0 419.5L1003.8 410.9L1028.7 419.5L1003.8 428.0ZM897.8 447.4L922.7 438.9L947.6 447.4L949.8 448.3L976.8 450.2L995.9 456.7L1003.8 459.1L1030.9 458.3L1058.0 457.6L1085.0 457.6L1109.4 466.1L1085.0 474.5L1058.0 474.5L1030.9 473.8L1003.8 473.1L976.8 473.3L949.8 473.1L922.7 471.5L895.6 474.6L868.6 474.6L841.5 472.1L824.2 466.1L841.5 460.1L868.6 457.5L895.6 457.5L922.7 460.6L925.2 456.7L922.7 456.0ZM1115.6 466.1L1139.1 458.0L1166.2 458.0L1193.2 459.1L1220.2 466.1L1193.2 473.1L1166.2 474.2L1139.1 474.2Z" clip-rule="evenodd"/></clipPath>
<g transform="translate(0 0.6)"><g clip-path="url(#cbs)" fill="none" stroke="#ffffee" stroke-width="1.7" stroke-linejoin="round" stroke-dasharray="1.4 1.3"><path d="M692.3 428.8L719.3 419.5V391.5L733.5 387.2H759.9V377.4L800.5 363.7V335.6L773.4 326.3V167.9L800.5 158.6V139.9L827.5 130.6V93.3L854.6 84V37.8L869.3 32.9H894.5L908.7 37.6L881.6 46.9L908.7 56.2V65.6L935.7 75V84.2L908.7 93.4V130.6L935.7 139.9V195.8L962.8 205.2V251.8L989.8 261.1V307.7L1016.9 317V372.9L1071 391.5V438.1L1085 443.2L1133.5 426.5L1164.8 438H1203M719.3 457L735 452.2H760L773.5 457L760 461.9H735ZM699.5 471.2H845L857 476M883 476L900 471.3H1193L1207 467.5"/></g></g>
<rect x="71.1" y="18.8" width="494.5" height="456.6" fill="none" stroke="#000" stroke-width="1.6"/>
<path d="M89.5 475.4 v-4.9M89.5 18.8 v4.9M184.7 475.4 v-4.9M184.7 18.8 v4.9M279.9 475.4 v-4.9M279.9 18.8 v4.9M375.1 475.4 v-4.9M375.1 18.8 v4.9M470.3 475.4 v-4.9M470.3 18.8 v4.9M565.5 475.4 v-4.9M565.5 18.8 v4.9M71.1 464.9 h4.9M565.6 464.9 h-4.9M71.1 363.7 h4.9M565.6 363.7 h-4.9M71.1 262.4 h4.9M565.6 262.4 h-4.9M71.1 161.2 h4.9M565.6 161.2 h-4.9M71.1 60.0 h4.9M565.6 60.0 h-4.9" stroke="#000" stroke-width="1.5" fill="none"/>
<text x="89.5" y="501.5" font-size="25.45" text-anchor="middle">1</text>
<text x="181.3" y="501.5" font-size="25.45" text-anchor="middle">1.5</text>
<text x="277.4" y="501.5" font-size="25.45" text-anchor="middle">2.0</text>
<text x="375.1" y="501.5" font-size="25.45" text-anchor="middle">2.5</text>
<text x="472.2" y="501.5" font-size="25.45" text-anchor="middle">3.0</text>
<text x="561.6" y="501.5" font-size="25.45" text-anchor="middle">3.5</text>
<text x="69.9" y="475.4" font-size="25.45" text-anchor="end">0</text>
<text x="69.9" y="374.2" font-size="25.45" text-anchor="end">50</text>
<text x="69.9" y="272.9" font-size="25.45" text-anchor="end">100</text>
<text x="69.9" y="171.7" font-size="25.45" text-anchor="end">150</text>
<text x="69.9" y="70.5" font-size="25.45" text-anchor="end">200</text>
<rect x="699.5" y="18.8" width="507.3" height="456.6" fill="none" stroke="#000" stroke-width="1.6"/>
<path d="M699.5 475.4 v-4.9M699.5 18.8 v4.9M801.0 475.4 v-4.9M801.0 18.8 v4.9M902.4 475.4 v-4.9M902.4 18.8 v4.9M1003.9 475.4 v-4.9M1003.9 18.8 v4.9M1105.3 475.4 v-4.9M1105.3 18.8 v4.9M1206.8 475.4 v-4.9M1206.8 18.8 v4.9M699.5 464.9 h4.9M1206.8 464.9 h-4.9M699.5 363.7 h4.9M1206.8 363.7 h-4.9M699.5 262.4 h4.9M1206.8 262.4 h-4.9M699.5 161.2 h4.9M1206.8 161.2 h-4.9M699.5 60.0 h4.9M1206.8 60.0 h-4.9" stroke="#000" stroke-width="1.5" fill="none"/>
<text x="699.5" y="499.4" font-size="25.45" text-anchor="middle">0.5</text>
<text x="801.5" y="499.4" font-size="25.45" text-anchor="middle">1.0</text>
<text x="900.9" y="499.4" font-size="25.45" text-anchor="middle">1.5</text>
<text x="1005.9" y="499.4" font-size="25.45" text-anchor="middle">2.0</text>
<text x="1106.8" y="499.4" font-size="25.45" text-anchor="middle">2.5</text>
<text x="1208.3" y="499.4" font-size="25.45" text-anchor="middle">3.0</text>
<text x="697.0" y="475.5" font-size="25.45" text-anchor="end">0</text>
<text x="697.0" y="374.3" font-size="25.45" text-anchor="end">50</text>
<text x="697.0" y="273.1" font-size="25.45" text-anchor="end">100</text>
<text x="697.0" y="171.8" font-size="25.45" text-anchor="end">150</text>
<text x="697.0" y="70.6" font-size="25.45" text-anchor="end">200</text>
<text x="315.2" y="530.9" font-size="25.45" text-anchor="middle">Distance (nm)</text>
<text x="951.8" y="529.5" font-size="25.45" text-anchor="middle">Distance (nm)</text>
<text transform="translate(21.8 252.9) rotate(-90)" font-size="25.45" text-anchor="middle">Number of native contact</text>
<text transform="translate(649.6 252.9) rotate(-90)" font-size="25.45" text-anchor="middle">Number of native contact</text>
<text transform="translate(0 29.9) scale(1.085 1.054)" font-size="41" font-weight="bold">A</text>
<text transform="translate(628.9 30.2) scale(1 1.05)" font-size="41" font-weight="bold">B</text>
<rect x="1258.3" y="29.00" width="17.3" height="8.14" fill="#800000"/>
<rect x="1258.3" y="36.14" width="17.3" height="8.14" fill="#8f0000"/>
<rect x="1258.3" y="43.28" width="17.3" height="8.14" fill="#9f0000"/>
<rect x="1258.3" y="50.43" width="17.3" height="8.14" fill="#af0000"/>
<rect x="1258.3" y="57.57" width="17.3" height="8.14" fill="#bf0000"/>
<rect x="1258.3" y="64.71" width="17.3" height="8.14" fill="#cf0000"/>
<rect x="1258.3" y="71.85" width="17.3" height="8.14" fill="#df0000"/>
<rect x="1258.3" y="79.00" width="17.3" height="8.14" fill="#ef0000"/>
<rect x="1258.3" y="86.14" width="17.3" height="8.14" fill="#ff0000"/>
<rect x="1258.3" y="93.28" width="17.3" height="8.14" fill="#ff1000"/>
<rect x="1258.3" y="100.42" width="17.3" height="8.14" fill="#ff2000"/>
<rect x="1258.3" y="107.56" width="17.3" height="8.14" fill="#ff3000"/>
<rect x="1258.3" y="114.71" width="17.3" height="8.14" fill="#ff4000"/>
<rect x="1258.3" y="121.85" width="17.3" height="8.14" fill="#ff5000"/>
<rect x="1258.3" y="128.99" width="17.3" height="8.14" fill="#ff6000"/>
<rect x="1258.3" y="136.13" width="17.3" height="8.14" fill="#ff7000"/>
<rect x="1258.3" y="143.27" width="17.3" height="8.14" fill="#ff8000"/>
<rect x="1258.3" y="150.42" width="17.3" height="8.14" fill="#ff8f00"/>
<rect x="1258.3" y="157.56" width="17.3" height="8.14" fill="#ff9f00"/>
<rect x="1258.3" y="164.70" width="17.3" height="8.14" fill="#ffaf00"/>
<rect x="1258.3" y="171.84" width="17.3" height="8.14" fill="#ffbf00"/>
<rect x="1258.3" y="178.99" width="17.3" height="8.14" fill="#ffcf00"/>
<rect x="1258.3" y="186.13" width="17.3" height="8.14" fill="#ffdf00"/>
<rect x="1258.3" y="193.27" width="17.3" height="8.14" fill="#ffef00"/>
<rect x="1258.3" y="200.41" width="17.3" height="8.14" fill="#ffff00"/>
<rect x="1258.3" y="207.55" width="17.3" height="8.14" fill="#efff10"/>
<rect x="1258.3" y="214.70" width="17.3" height="8.14" fill="#dfff20"/>
<rect x="1258.3" y="221.84" width="17.3" height="8.14" fill="#cfff30"/>
<rect x="1258.3" y="228.98" width="17.3" height="8.14" fill="#bfff40"/>
<rect x="1258.3" y="236.12" width="17.3" height="8.14" fill="#afff50"/>
<rect x="1258.3" y="243.27" width="17.3" height="8.14" fill="#9fff60"/>
<rect x="1258.3" y="250.41" width="17.3" height="8.14" fill="#8fff70"/>
<rect x="1258.3" y="257.55" width="17.3" height="8.14" fill="#80ff80"/>
<rect x="1258.3" y="264.69" width="17.3" height="8.14" fill="#70ff8f"/>
<rect x="1258.3" y="271.83" width="17.3" height="8.14" fill="#60ff9f"/>
<rect x="1258.3" y="278.98" width="17.3" height="8.14" fill="#50ffaf"/>
<rect x="1258.3" y="286.12" width="17.3" height="8.14" fill="#40ffbf"/>
<rect x="1258.3" y="293.26" width="17.3" height="8.14" fill="#30ffcf"/>
<rect x="1258.3" y="300.40" width="17.3" height="8.14" fill="#20ffdf"/>
<rect x="1258.3" y="307.55" width="17.3" height="8.14" fill="#10ffef"/>
<rect x="1258.3" y="314.69" width="17.3" height="8.14" fill="#00ffff"/>
<rect x="1258.3" y="321.83" width="17.3" height="8.14" fill="#00efff"/>
<rect x="1258.3" y="328.97" width="17.3" height="8.14" fill="#00dfff"/>
<rect x="1258.3" y="336.11" width="17.3" height="8.14" fill="#00cfff"/>
<rect x="1258.3" y="343.26" width="17.3" height="8.14" fill="#00bfff"/>
<rect x="1258.3" y="350.40" width="17.3" height="8.14" fill="#00afff"/>
<rect x="1258.3" y="357.54" width="17.3" height="8.14" fill="#009fff"/>
<rect x="1258.3" y="364.68" width="17.3" height="8.14" fill="#008fff"/>
<rect x="1258.3" y="371.83" width="17.3" height="8.14" fill="#0080ff"/>
<rect x="1258.3" y="378.97" width="17.3" height="8.14" fill="#0070ff"/>
<rect x="1258.3" y="386.11" width="17.3" height="8.14" fill="#0060ff"/>
<rect x="1258.3" y="393.25" width="17.3" height="8.14" fill="#0050ff"/>
<rect x="1258.3" y="400.39" width="17.3" height="8.14" fill="#0040ff"/>
<rect x="1258.3" y="407.54" width="17.3" height="8.14" fill="#0030ff"/>
<rect x="1258.3" y="414.68" width="17.3" height="8.14" fill="#0020ff"/>
<rect x="1258.3" y="421.82" width="17.3" height="8.14" fill="#0010ff"/>
<rect x="1258.3" y="428.96" width="17.3" height="8.14" fill="#0000ff"/>
<rect x="1258.3" y="436.10" width="17.3" height="8.14" fill="#0000ef"/>
<rect x="1258.3" y="443.25" width="17.3" height="8.14" fill="#0000df"/>
<rect x="1258.3" y="450.39" width="17.3" height="8.14" fill="#0000cf"/>
<rect x="1258.3" y="457.53" width="17.3" height="8.14" fill="#0000bf"/>
<rect x="1258.3" y="464.67" width="17.3" height="8.14" fill="#0000af"/>
<rect x="1258.3" y="471.82" width="17.3" height="8.14" fill="#00009f"/>
<rect x="1258.3" y="478.96" width="17.3" height="7.14" fill="#ffffff"/>
<rect x="1258.3" y="29.0" width="17.3" height="457.1" fill="none" stroke="#000" stroke-width="1.5"/>
<path d="M1258.3 435.3 h4M1275.6 435.3 h-4M1258.3 384.5 h4M1275.6 384.5 h-4M1258.3 333.7 h4M1275.6 333.7 h-4M1258.3 282.9 h4M1275.6 282.9 h-4M1258.3 232.2 h4M1275.6 232.2 h-4M1258.3 181.4 h4M1275.6 181.4 h-4M1258.3 130.6 h4M1275.6 130.6 h-4M1258.3 79.8 h4M1275.6 79.8 h-4" stroke="#000" stroke-width="1.3" fill="none"/>
<text x="1279.4" y="488.4" font-size="21">0</text>
<text x="1279.4" y="392.0" font-size="21">0.2</text>
<text x="1279.4" y="290.4" font-size="21">0.4</text>
<text x="1279.4" y="188.9" font-size="21">0.6</text>
<text x="1279.4" y="87.3" font-size="21">0.8</text>
<text transform="translate(1338.6 264.3) rotate(-90)" font-size="21" text-anchor="middle">Occupancy of HRC</text>
</svg>
</body></html>
